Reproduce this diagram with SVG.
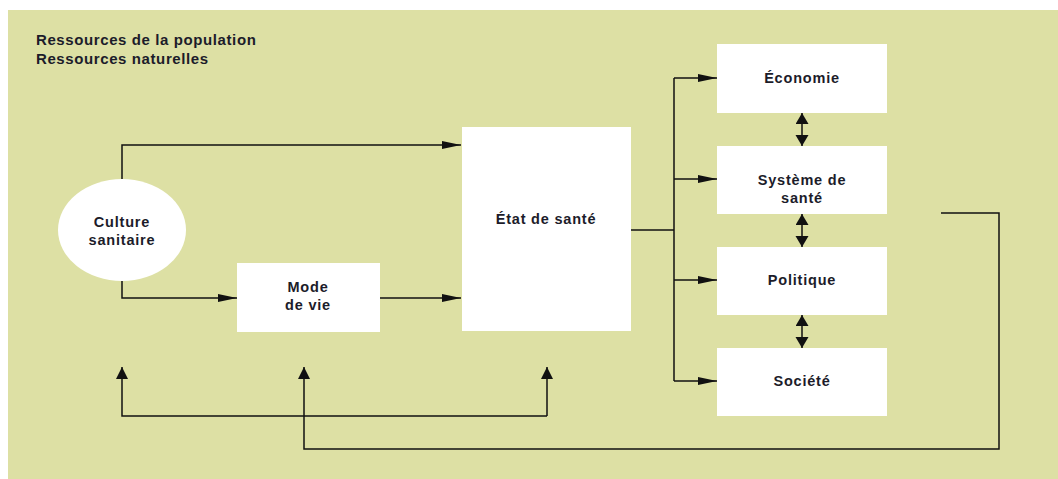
<svg xmlns="http://www.w3.org/2000/svg" width="1058" height="479" viewBox="0 0 1058 479">
  <style>
    .bg { fill: #dde0a4; }
    .box { fill: #ffffff; stroke: none; }
    .lbl { font-family: "Liberation Sans", Arial, sans-serif; font-weight: 700; font-size: 14.5px; fill: #1c1c2a; text-anchor: middle; letter-spacing: 0.8px; }
    .title { font-family: "Liberation Sans", Arial, sans-serif; font-weight: 700; font-size: 15px; fill: #1c1c2a; letter-spacing: 0.6px; }
    .ln { fill: none; stroke: #111111; stroke-width: 1.5; }
  </style>
  <defs>
    <marker id="ah" markerUnits="userSpaceOnUse" markerWidth="20" markerHeight="10" refX="19" refY="4" orient="auto">
      <path d="M0,0 L19,4 L0,8 z" fill="#111111"/>
    </marker>
    <marker id="au" markerUnits="userSpaceOnUse" markerWidth="14" markerHeight="14" refX="12" refY="6" orient="auto">
      <path d="M0,0 L12,6 L0,12 z" fill="#111111"/>
    </marker>
    <marker id="ad" markerUnits="userSpaceOnUse" markerWidth="14" markerHeight="14" refX="11" refY="6.5" orient="auto-start-reverse">
      <path d="M0,0 L11,6.5 L0,13 z" fill="#111111"/>
    </marker>
  </defs>

  <rect class="bg" x="8" y="10" width="1050" height="469"/>

  <g id="title">
    <text class="title" x="36" y="45">Ressources de la population</text>
    <text class="title" x="36" y="64">Ressources naturelles</text>
  </g>

  <g id="connectors">
    <path class="ln" d="M122,179 V145 H461" marker-end="url(#ah)"/>
    <path class="ln" d="M122,281 V298 H237" marker-end="url(#ah)"/>
    <path class="ln" d="M380,298 H461" marker-end="url(#ah)"/>
    <path class="ln" d="M631,230 H674"/>
    <path class="ln" d="M674,78 V381"/>
    <path class="ln" d="M674,78 H717" marker-end="url(#ah)"/>
    <path class="ln" d="M674,179 H717" marker-end="url(#ah)"/>
    <path class="ln" d="M674,280 H717" marker-end="url(#ah)"/>
    <path class="ln" d="M674,381 H717" marker-end="url(#ah)"/>
    <path class="ln" d="M802,113 V146" marker-start="url(#ad)" marker-end="url(#ad)"/>
    <path class="ln" d="M802,214 V247" marker-start="url(#ad)" marker-end="url(#ad)"/>
    <path class="ln" d="M802,315 V348" marker-start="url(#ad)" marker-end="url(#ad)"/>
    <path class="ln" d="M941,213 H999 V449 H304 V367" marker-end="url(#au)"/>
    <path class="ln" d="M547,416 H122 V367" marker-end="url(#au)"/>
    <path class="ln" d="M547,416 V367" marker-end="url(#au)"/>
  </g>

  <g id="culture-sanitaire">
    <ellipse class="box" cx="122" cy="230" rx="64" ry="51"/>
    <text class="lbl" x="122" y="227">Culture</text>
    <text class="lbl" x="122" y="245">sanitaire</text>
  </g>

  <g id="mode-de-vie">
    <rect class="box" x="237" y="263" width="143" height="69"/>
    <text class="lbl" x="308" y="292">Mode</text>
    <text class="lbl" x="308" y="310">de vie</text>
  </g>

  <g id="etat-de-sante">
    <rect class="box" x="462" y="127" width="169" height="204"/>
    <text class="lbl" x="546" y="224">État de santé</text>
  </g>

  <g id="economie">
    <rect class="box" x="717" y="44" width="170" height="69"/>
    <text class="lbl" x="802" y="83">Économie</text>
  </g>

  <g id="systeme-de-sante">
    <rect class="box" x="717" y="146" width="170" height="68"/>
    <text class="lbl" x="802" y="185">Système de</text>
    <text class="lbl" x="802" y="203">santé</text>
  </g>

  <g id="politique">
    <rect class="box" x="717" y="247" width="170" height="68"/>
    <text class="lbl" x="802" y="285">Politique</text>
  </g>

  <g id="societe">
    <rect class="box" x="717" y="348" width="170" height="68"/>
    <text class="lbl" x="802" y="386">Société</text>
  </g>
</svg>
